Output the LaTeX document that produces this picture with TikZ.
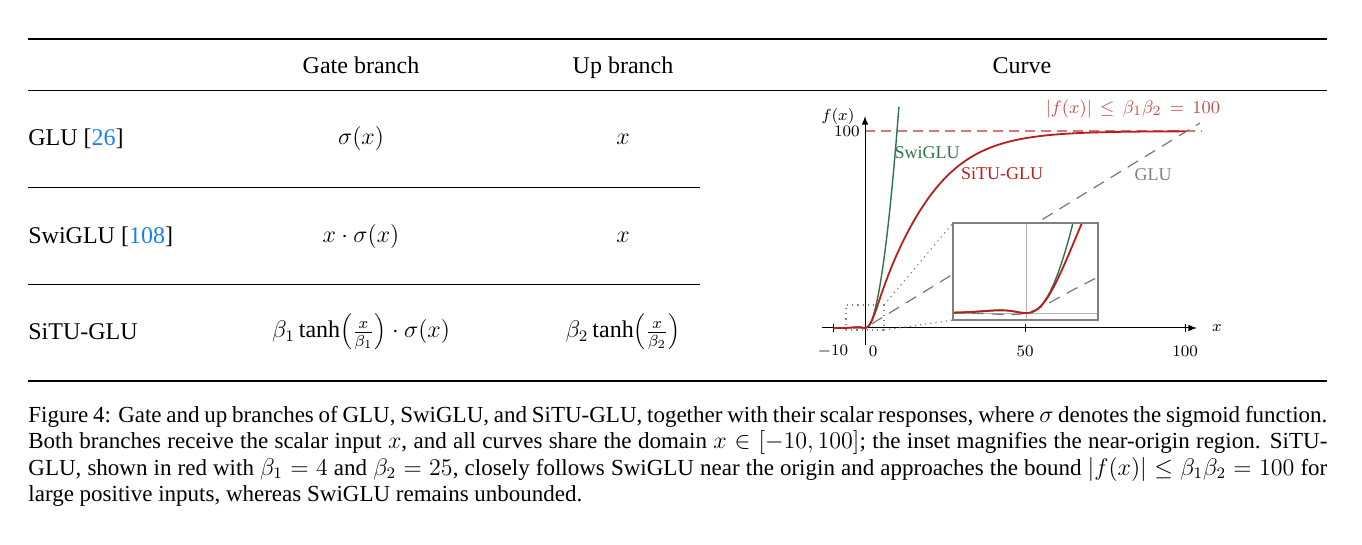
\documentclass[tikz,border=0pt]{standalone}
\usepackage{fontspec}
\setmainfont{Liberation Serif}
\begin{document}
\begin{tikzpicture}[x=0.5pt,y=-0.5pt,
  declare function={th(\t)=tanh(max(-4,min(4,\t))); sg(\t)=0.5+0.5*th(\t/2);
    situ(\t)=4*th(\t/4)*25*th(\t/25)*sg(\t); swi(\t)=\t*\t*sg(\t); gl(\t)=\t*sg(\t);},
  lab/.style={inner sep=0pt,font=\fontsize{12}{13.2}\selectfont},
  hd/.style={lab,anchor=base},
  tick/.style={inner sep=1pt,font=\fontsize{8.5}{9}\selectfont},
  red/.style={color={rgb,255:red,185;green,30;blue,30}},
  grn/.style={color={rgb,255:red,45;green,115;blue,75}},
  glu/.style={color={rgb,255:red,120;green,120;blue,120},dash pattern=on 6pt off 4pt}]
\useasboundingbox (0,0) rectangle (1362,545);
% rules
\draw[line width=0.8pt] (28,39) -- (1327,39);
\draw[line width=0.4pt] (28,90) -- (1327,90);
\draw[line width=0.4pt] (28,187) -- (700,187);
\draw[line width=0.4pt] (28,284) -- (700,284);
\draw[line width=0.8pt] (28,381) -- (1327,381);
% header
\node[hd] (h1) at (361,74) {Gate branch};
\node[hd] (h2) at (623,74) {Up branch};
\node[hd] (h3) at (1022,74) {Curve};
\node[lab,anchor=west] (r1) at (28,139) {GLU [\textcolor[rgb]{0.1,0.5,0.95}{26}]};
\node[lab,anchor=west] (r2) at (28,237) {SwiGLU [\textcolor[rgb]{0.1,0.5,0.95}{108}]};
\node[lab,anchor=west] (r3) at (28,332) {SiTU-GLU};
\node[lab] (g1) at (361,139) {$\sigma(x)$};
\node[lab] (g2) at (361,237) {$x\cdot\sigma(x)$};
\node[lab] (g3) at (361,332) {$\beta_1\tanh\!\left(\frac{x}{\beta_1}\right)\cdot\sigma(x)$};
\node[lab] (u1) at (623,139) {$x$};
\node[lab] (u2) at (623,237) {$x$};
\node[lab] (u3) at (623,332) {$\beta_2\tanh\!\left(\frac{x}{\beta_2}\right)$};
% plot
\draw[red,opacity=0.6,dash pattern=on 5pt off 3pt,line width=0.6pt] (865,131) -- (1202,131);
\node[tick,red,opacity=0.8,anchor=south,font=\fontsize{9.5}{10}\selectfont] (bnd) at (1133,120) {$|f(x)|\,\le\,\beta_1\beta_2\,=\,100$};
\draw[glu,line width=0.6pt] (833,328) -- (865,328) -- (1200,123);
\draw[-latex,line width=0.5pt] (822,328) -- (1197,328);
\draw[-latex,line width=0.5pt] (865,345) -- (865,116);
\foreach \xx in {833,1025,1185} \draw (\xx,324) -- (\xx,332);
\node[tick] (tm10) at (833,351) {$-10$};
\node[tick] (t0) at (873,351) {$0$};
\node[tick] (t50) at (1025,351) {$50$};
\node[tick] (t100) at (1185,351) {$100$};
\node[tick,anchor=east] (y100) at (862,131) {$100$};
\node[tick] (fx) at (838,117) {$f(x)$};
\node[tick] (xl) at (1217,328) {$x$};
\draw[grn,line width=0.7pt] plot[domain=-10:10.6,samples=80,smooth] ({865+3.2*\x},{328-1.97*swi(\x)});
\draw[red,line width=0.9pt] plot[domain=-10:100,samples=160,smooth] ({865+3.2*\x},{328-1.97*situ(\x)});
\node[tick,grn,font=\fontsize{9}{10}\selectfont] (ls) at (927,153) {SwiGLU};
\node[tick,red,font=\fontsize{9}{10}\selectfont] (lr) at (1002,174) {SiTU-GLU};
\node[tick,gray,font=\fontsize{9}{10}\selectfont] (lg) at (1153,175) {GLU};
% zoom box
\draw[gray,dotted,line width=0.6pt] (846,330) rectangle (884,305);
\draw[gray,dotted,line width=0.6pt] (884,305) -- (953,223);
\draw[gray,dotted,line width=0.6pt] (884,330) -- (953,320);
% inset
\fill[white] (953,223) rectangle (1098,320);
\begin{scope}
\clip (953,223) rectangle (1098,320);
\draw[gray!60,line width=0.4pt] (953,313) -- (1098,313);
\draw[gray!60,line width=0.4pt] (1026,223) -- (1026,320);
\draw[glu,line width=0.6pt] plot[domain=-6.2:6.2,samples=60,smooth] ({1026+12*\x},{313-6*gl(\x)});
\draw[grn,line width=0.7pt] plot[domain=-6.2:6,samples=80,smooth] ({1026+12*\x},{313-6*swi(\x)});
\draw[red,line width=0.9pt] plot[domain=-6.2:6,samples=80,smooth] ({1026+12*\x},{313-6*situ(\x)});
\end{scope}
\draw[gray,line width=0.6pt] (953,223) rectangle (1098,320);
% caption
\node[lab,anchor=north west,text width=649.5pt,align=justify,font=\fontsize{11.5}{13.2}\selectfont] (cap) at (28,406) {Figure 4: Gate and up branches of GLU, SwiGLU, and SiTU-GLU, together with their scalar responses, where $\sigma$ denotes the sigmoid function. Both branches receive the scalar input $x$, and all curves share the domain $x\in[-10,100]$; the inset magnifies the near-origin region. SiTU-GLU, shown in red with $\beta_1=4$ and $\beta_2=25$, closely follows SwiGLU near the origin and approaches the bound $|f(x)|\le\beta_1\beta_2=100$ for large positive inputs, whereas SwiGLU remains unbounded.};
\end{tikzpicture}
\end{document}
